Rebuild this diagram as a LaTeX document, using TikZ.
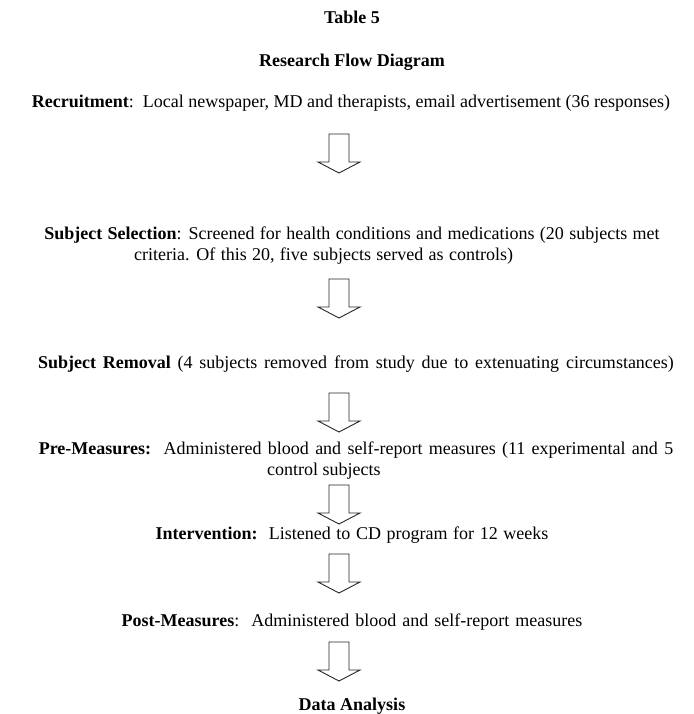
\documentclass[tikz,border=0pt]{standalone}
\usepackage{fontspec}
\setmainfont{Liberation Serif}
\newcommand{\wsp}[1]{\spaceskip=#1pt\relax}
\begin{document}
\begin{tikzpicture}[x=1pt,y=-1pt,
  txt/.style={anchor=base, inner sep=0pt, font=\fontsize{18}{21}\selectfont, text=black},
  ltxt/.style={txt, anchor=base west},
  arrowline/.style={draw=black!85, line width=0.9pt, line join=miter, fill=white},
  downarr/.pic={\path[arrowline] (-10,0) -- (10,0) -- (10,28) -- (21,28) -- (0,39) -- (-21,28) -- (-10,28) -- cycle;}
]
\useasboundingbox (0,0) rectangle (693,714);
\node[txt] (t5) at (352,24) {\textbf{Table 5}};
\node[txt] (rfd) at (352,67) {\textbf{Research Flow Diagram}};
\node[txt] (rec) at (351,108) {\textbf{Recruitment}:\ \ Local newspaper, MD and therapists, email advertisement (36 responses)};
\pic (a1) at (339,134) {downarr};
\node[txt] (ss1) at (352,239) {\wsp{5.4}\textbf{Subject Selection}: Screened for health conditions and medications (20 subjects met};
\node[ltxt] (ss2) at (134,260) {\wsp{5.3}criteria. Of this 20, five subjects served as controls)};
\pic (a2) at (339,279) {downarr};
\node[txt] (sr) at (356,368) {\wsp{6.8}\textbf{Subject Removal} (4 subjects removed from study due to extenuating circumstances)};
\pic (a3) at (339,393) {downarr};
\node[txt] (pm1) at (356,454) {\wsp{6.3}\textbf{Pre-Measures:}\ \ Administered blood and self-report measures (11 experimental and 5};
\node[ltxt] (pm2) at (267,475) {control subjects};
\pic (a4) at (339,485) {downarr};
\node[txt] (int) at (352,539) {\wsp{5.6}\textbf{Intervention:}\ \ Listened to CD program for 12 weeks};
\pic (a5) at (339,554) {downarr};
\node[txt] (post) at (352,626) {\wsp{6.0}\textbf{Post-Measures}:\ \ Administered blood and self-report measures};
\pic (a6) at (339,642) {downarr};
\node[txt] (da) at (352,710) {\textbf{Data Analysis}};
\end{tikzpicture}
\end{document}
